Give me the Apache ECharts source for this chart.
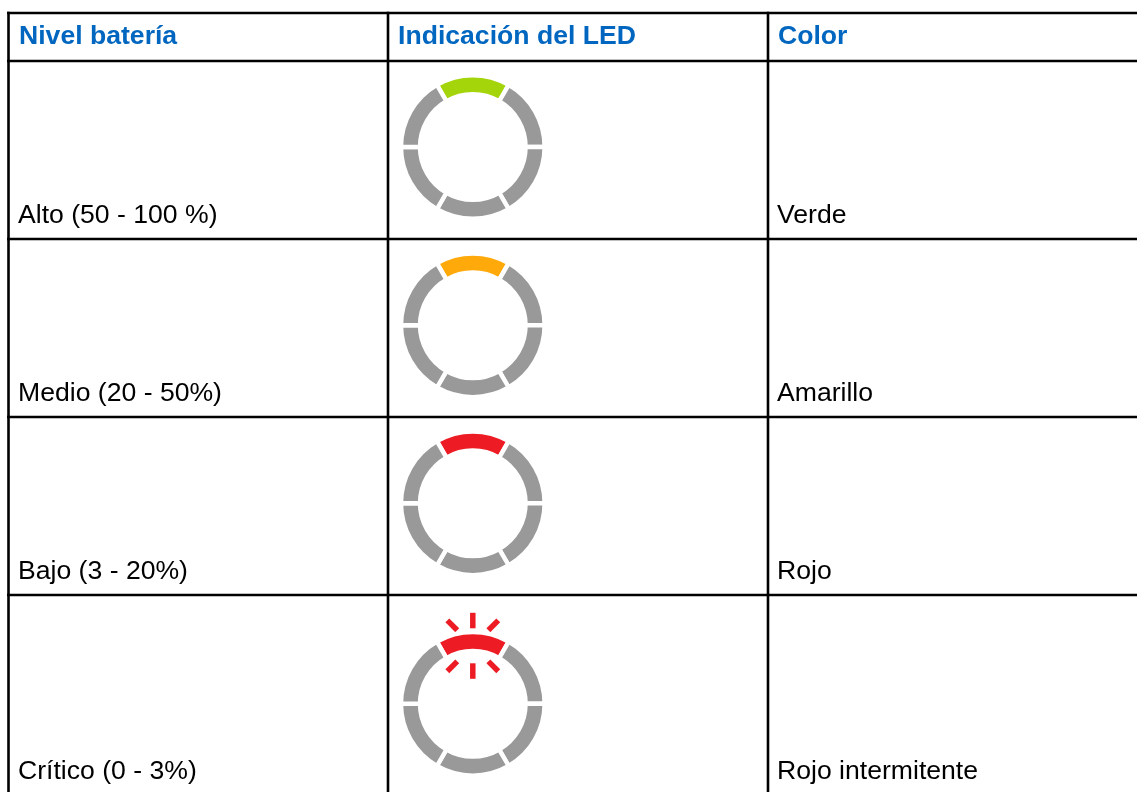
<!DOCTYPE html>
<html><head><meta charset="utf-8">
<style>html,body{margin:0;padding:0;background:#fff}#c{width:1137px;height:792px}</style>
<script src="https://cdn.jsdelivr.net/npm/echarts@6/dist/echarts.min.js"></script>
</head><body><div id="c"></div>
<script>
const headers = ['Nivel batería', 'Indicación del LED', 'Color'];
const levels = ['Alto (50 - 100 %)', 'Medio (20 - 50%)', 'Bajo (3 - 20%)', 'Crítico (0 - 3%)'];
const colorNames = ['Verde', 'Amarillo', 'Rojo', 'Rojo intermitente'];
const ledColors = ['#a4d40a', '#ffa90a', '#ed1c24', '#ed1c24'];
const segmentNames = ['top', 'upper right', 'lower right', 'bottom', 'lower left', 'upper left'];
const segmentSpans = [60, 60, 60, 60, 60, 60];
const rayAngles = [90, 45, 135, 270, 315, 225];
const rayRanges = [[17.5, 33], [22, 36], [22, 36], [17.5, 33], [22, 36], [22, 36]];

const colX = [8.5, 388, 768];
const rowY = [13, 61, 239, 417, 595];
const baselines = [225, 403, 581, 781];
const headerBaseline = 46;
const ringX = 472.8;
const ringY = [147, 325.3, 503.3, 703.8];
const rayCenterY = 645.8;
const grey = '#999999', blue = '#0066bf';
const fs = 26.6, mid = 9.3;

const g = [];
rowY.forEach(y => g.push({type:'line', silent:true, shape:{x1:7, y1:y, x2:1137, y2:y}, style:{stroke:'#000', lineWidth:2.6}}));
colX.forEach(x => g.push({type:'line', silent:true, shape:{x1:x, y1:11.7, x2:x, y2:792}, style:{stroke:'#000', lineWidth:2.6}}));
const textX = [18, 397, 777];
const txt = (t,x,b,fill,weight) => ({type:'text', silent:true, x, y:b-mid, style:{text:t, fill, font:weight+' '+fs+'px "Liberation Sans"', verticalAlign:'middle', align:'left'}});
headers.forEach((t,i) => g.push(txt(t, textX[i]+1, headerBaseline, blue, 'bold')));
levels.forEach((t,i) => g.push(txt(t, textX[0], baselines[i], '#000', 'normal')));
colorNames.forEach((t,i) => g.push(txt(t, textX[2], baselines[i], '#000', 'normal')));

const series = ledColors.map((c,i) => ({
  type:'pie', silent:true, animation:false, center:[ringX, ringY[i]], radius:[52.8, 71.8],
  startAngle:120, clockwise:true, label:{show:false}, labelLine:{show:false},
  itemStyle:{borderColor:'#fff', borderWidth:4.4},
  data: segmentSpans.map((v,k) => ({name:segmentNames[k], value:v, itemStyle:{color:k===0?c:grey}}))
}));
series.push({
  type:'custom', coordinateSystem:'none', silent:true, animation:false,
  data: rayAngles.map((a,i) => [a, rayRanges[i][0], rayRanges[i][1]]),
  renderItem(params, api){
    const a = api.value(0)*Math.PI/180, r0 = api.value(1), r1 = api.value(2);
    return {type:'line', shape:{
      x1:ringX + r0*Math.cos(a), y1:rayCenterY - r0*Math.sin(a),
      x2:ringX + r1*Math.cos(a), y2:rayCenterY - r1*Math.sin(a)},
      style:{stroke:ledColors[3], lineWidth:5.5, fill:null}};
  }
});
const chart = echarts.init(document.getElementById('c'), null, {renderer:'canvas'});
chart.setOption({animation:false, backgroundColor:'#fff', graphic:g, series});
</script></body></html>
